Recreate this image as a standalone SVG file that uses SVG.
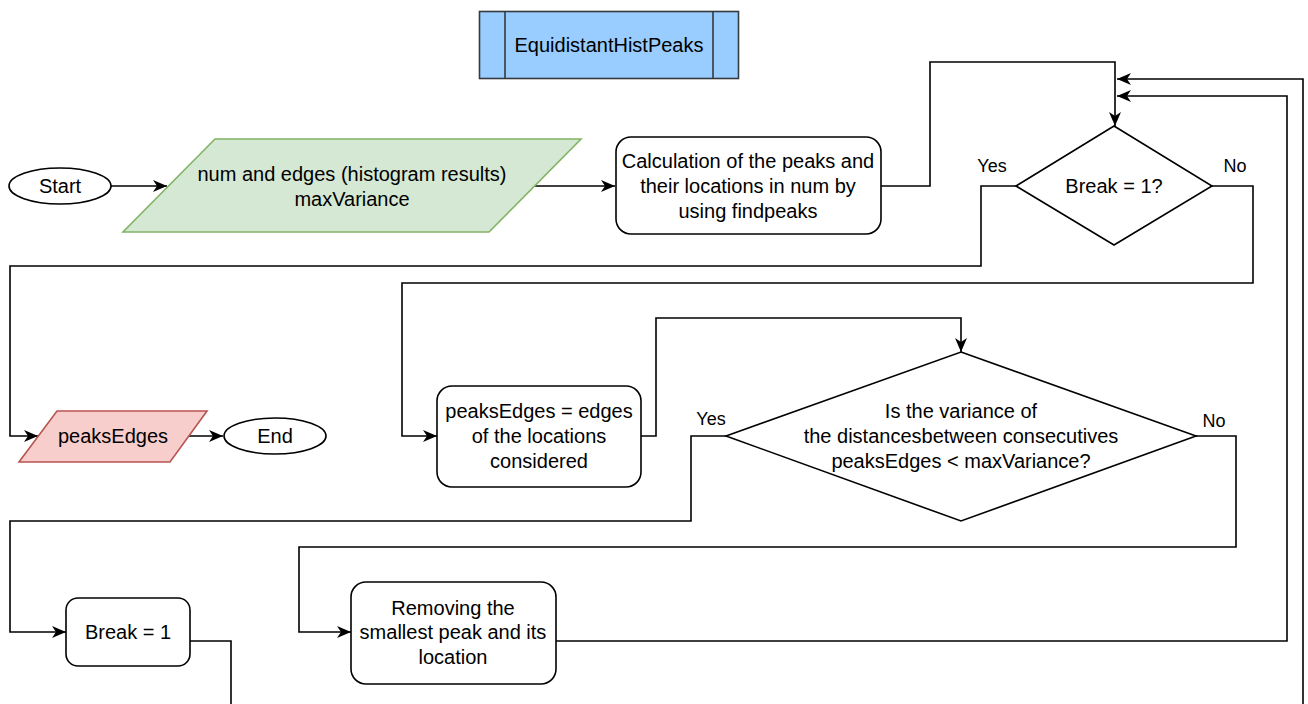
<svg xmlns="http://www.w3.org/2000/svg" width="1308" height="704" viewBox="0 0 1308 704">
<style>
.t{font-family:"Liberation Sans",Arial,sans-serif;font-size:20px;fill:#000;text-anchor:middle;dominant-baseline:central}
.l{font-family:"Liberation Sans",Arial,sans-serif;font-size:18px;fill:#000;text-anchor:middle;dominant-baseline:central}
.s{fill:#fff;stroke:#000;stroke-width:1.6}
.c{fill:none;stroke:#000;stroke-width:1.6}
</style>
<defs>
<marker id="a" markerUnits="userSpaceOnUse" markerWidth="16" markerHeight="14" refX="14" refY="6" orient="auto">
<path d="M0,0 L14,6 L0,12 L4,6 z" fill="#000"/>
</marker>
</defs>
<rect width="1308" height="704" fill="#fff"/>
<g id="connectors">
<path class="c" d="M111,186 H167" stroke-width="2.2" marker-end="url(#a)"/>
<path class="c" d="M535,186 H615" marker-end="url(#a)"/>
<path class="c" d="M881,186 H930 V62 H1115 V126" marker-end="url(#a)"/>
<path class="c" d="M1016,186 H981 V266 H10 V436 H38" marker-end="url(#a)"/>
<path class="c" d="M1212,186 H1253 V283 H402 V436 H437" marker-end="url(#a)"/>
<path class="c" d="M189,436 H223" stroke-width="2.2" marker-end="url(#a)"/>
<path class="c" d="M641,436 H656 V318 H961 V352" marker-end="url(#a)"/>
<path class="c" d="M726,436 H691 V521 H10 V632 H66" marker-end="url(#a)"/>
<path class="c" d="M1196,436 H1236 V547 H299 V632 H351" marker-end="url(#a)"/>
<path class="c" d="M190,641 H231 V720 H1303 V79 H1117" marker-end="url(#a)"/>
<path class="c" d="M556,641 H1287 V96 H1117" marker-end="url(#a)"/>
</g>
<g id="title">
<rect x="479.5" y="11.5" width="259" height="67" fill="#99ccff" stroke="#36393d" stroke-width="1.6"/>
<line x1="505" y1="11.5" x2="505" y2="78.5" stroke="#36393d" stroke-width="1.6"/>
<line x1="713" y1="11.5" x2="713" y2="78.5" stroke="#36393d" stroke-width="1.6"/>
<text class="t" x="609" y="45">EquidistantHistPeaks</text>
</g>
<g id="start">
<ellipse class="s" cx="60" cy="186" rx="51" ry="18"/>
<text class="t" x="60" y="186">Start</text>
</g>
<g id="input">
<polygon points="215,139 581,139 489,232 123,232" fill="#d5e8d4" stroke="#82b366" stroke-width="1.6"/>
<text class="t" x="352" y="174">num and edges (histogram results)</text>
<text class="t" x="352" y="199">maxVariance</text>
</g>
<g id="calc">
<rect class="s" x="616" y="137" width="265" height="97" rx="15"/>
<text class="t" x="748" y="161">Calculation of the peaks and</text>
<text class="t" x="748" y="186">their locations in num by</text>
<text class="t" x="748" y="211">using findpeaks</text>
</g>
<g id="break-check">
<polygon class="s" points="1114,126 1212,186 1114,245 1016,186"/>
<text class="t" x="1114" y="186">Break = 1?</text>
<text class="l" x="992" y="166">Yes</text>
<text class="l" x="1235" y="166">No</text>
</g>
<g id="output">
<polygon points="57,411 207,411 170,462 19,462" fill="#f8cecc" stroke="#b85450" stroke-width="1.6"/>
<text class="t" x="113" y="436">peaksEdges</text>
</g>
<g id="end">
<ellipse class="s" cx="275" cy="436" rx="51" ry="18"/>
<text class="t" x="275" y="436">End</text>
</g>
<g id="assign">
<rect class="s" x="437" y="386" width="204" height="101" rx="15"/>
<text class="t" x="539" y="411">peaksEdges = edges</text>
<text class="t" x="539" y="436">of the locations</text>
<text class="t" x="539" y="461">considered</text>
</g>
<g id="variance-check">
<polygon class="s" points="961,352 1196,436 961,521 726,436"/>
<text class="t" x="961" y="411">Is the variance of</text>
<text class="t" x="961" y="436">the distancesbetween consecutives</text>
<text class="t" x="961" y="461">peaksEdges &lt; maxVariance?</text>
<text class="l" x="711" y="419">Yes</text>
<text class="l" x="1214" y="421">No</text>
</g>
<g id="set-break">
<rect class="s" x="66" y="598" width="124" height="68" rx="12"/>
<text class="t" x="128" y="632">Break = 1</text>
</g>
<g id="remove">
<rect class="s" x="351" y="582" width="205" height="102" rx="15"/>
<text class="t" x="453" y="608">Removing the</text>
<text class="t" x="453" y="632">smallest peak and its</text>
<text class="t" x="453" y="657">location</text>
</g>
</svg>
